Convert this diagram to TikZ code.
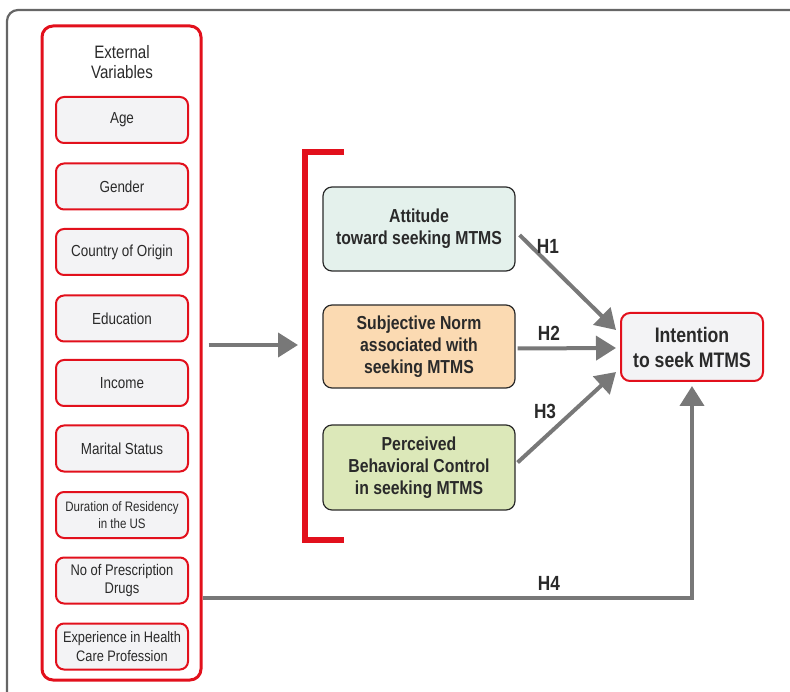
\documentclass[tikz,border=0pt]{standalone}
\usepackage{fontspec}
\setmainfont{Liberation Sans}[FakeStretch=0.84]
\usetikzlibrary{arrows.meta,calc}
\definecolor{myred}{HTML}{E2101C}
\definecolor{arrgray}{HTML}{787878}
\definecolor{framegray}{HTML}{666666}
\definecolor{boxfill}{HTML}{F3F3F5}
\definecolor{attfill}{HTML}{E4F1EC}
\definecolor{normfill}{HTML}{FBDAB2}
\definecolor{pbcfill}{HTML}{DCE8B9}
\definecolor{txt}{HTML}{2A2A2A}
\tikzset{
  extitem/.style={draw=myred, line width=2pt, fill=boxfill, rounded corners=8pt,
    minimum width=132pt, minimum height=46pt, align=center, text=txt,
    font=\fontsize{16}{18}\selectfont, inner sep=1pt},
  tpbbox/.style={draw=txt, line width=1.2pt, rounded corners=9pt,
    minimum width=192pt, align=center, text=txt,
    font=\bfseries\fontsize{18.8}{22}\selectfont},
  intbox/.style={draw=myred, line width=2pt, fill=boxfill, rounded corners=9pt,
    minimum width=142pt, minimum height=68pt, align=center, text=txt,
    font=\bfseries\fontsize{21}{25}\selectfont},
  hlab/.style={text=txt, font=\bfseries\fontsize{20.5}{22}\selectfont},
  garrow/.style={draw=arrgray, line width=4pt, -{Triangle[length=20pt,width=24pt]}},
  gline/.style={draw=arrgray, line width=4pt}
}
\begin{document}
\begin{tikzpicture}[x=1pt,y=-1pt]
\useasboundingbox (0,0) rectangle (790,692);
\begin{scope}
\clip (0,0) rectangle (790,692);
\draw[framegray, line width=2.2pt, rounded corners=11pt] (7,10) rectangle (820,720);
\end{scope}
% external variables container
\node[draw=myred, line width=3pt, rounded corners=11pt, minimum width=159pt, minimum height=654pt] (ext) at (121.5,353) {};
\node[text=txt, align=center, font=\fontsize{18}{20.5}\selectfont] (exttitle) at (122,62) {External\\Variables};
\node[extitem] (age) at (122,120) {Age};
\node[extitem] (gender) at (122,186.5) {Gender};
\node[extitem] (country) at (122,252) {Country of Origin};
\node[extitem] (edu) at (122,318.5) {Education};
\node[extitem] (income) at (122,383) {Income};
\node[extitem] (marital) at (122,448.5) {Marital Status};
\node[extitem, font=\fontsize{13.7}{17.5}\selectfont] (dur) at (122,515) {Duration of Residency\\in the US};
\node[extitem, font=\fontsize{15.4}{18.5}\selectfont] (drugs) at (122,580.5) {No of Prescription\\Drugs};
\node[extitem, font=\fontsize{15.2}{18.5}\selectfont] (exp) at (122,646.5) {Experience in Health\\Care Profession};
% bracket
\draw[myred, line width=6pt] (344,152) -- (305,152) -- (305,540) -- (344,540);
\coordinate (brk) at (298,345);
% TPB constructs
\node[tpbbox, fill=attfill, minimum height=84pt] (att) at (419,229) {Attitude\\toward seeking MTMS};
\node[tpbbox, fill=normfill, minimum height=83pt] (norm) at (419,346.5) {Subjective Norm\\associated with\\seeking MTMS};
\node[tpbbox, fill=pbcfill, minimum height=85pt] (pbc) at (419,467.5) {Perceived\\Behavioral Control\\in seeking MTMS};
\node[intbox] (int) at (692,347) {Intention\\to seek MTMS};
% arrows
\draw[garrow] ($(ext.east |- brk)+(6,0)$) -- (brk);
\draw[garrow] ($(att.east)+(4,6)$) -- ($(int.west)+(-4,-17)$);
\draw[garrow] ($(norm.east)+(2,2)$) -- ($(int.west)+(-4,1)$);
\draw[garrow] ($(pbc.east)+(2,-5)$) -- ($(int.west)+(-4,25)$);
\coordinate (corner) at (692,598);
\draw[garrow] (ext.east |- corner) -- (corner) -- ($(int.south)+(0,4)$);
% labels
\node[hlab] (h1) at (548,246) {H1};
\node[hlab] (h2) at (549,333) {H2};
\node[hlab] (h3) at (545,411) {H3};
\node[hlab] (h4) at (549,583) {H4};
\end{tikzpicture}
\end{document}
